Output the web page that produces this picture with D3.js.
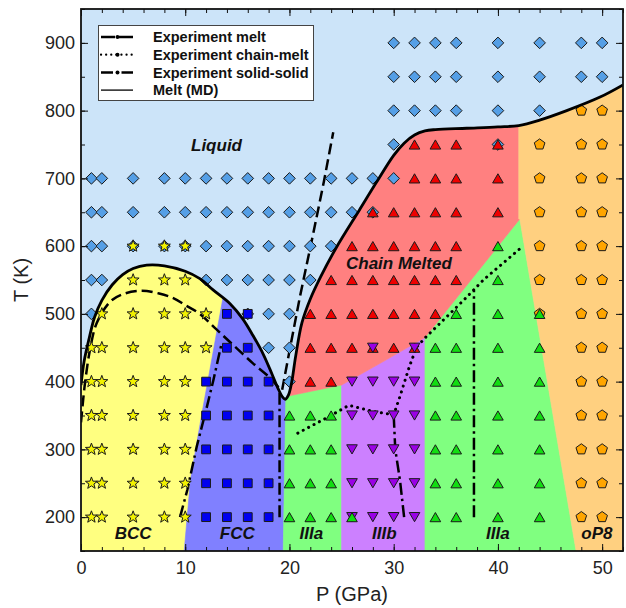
<!DOCTYPE html>
<html>
<head>
<meta charset="utf-8">
<script src="https://cdn.jsdelivr.net/npm/d3@7"></script>
<style>
body { margin: 0; background: #fff; }
text { font-family: "Liberation Sans", Arial, sans-serif; }
</style>
</head>
<body>
<script>
// ---- simulation points: [T, [P values]] ----
var liquidRows = [
    [900, [30, 32, 34, 36, 40, 44, 48, 50]],
    [850, [30, 32, 34, 36, 40, 44, 48, 50]],
    [800, [30, 32, 34, 36, 40, 44]],
    [750, [30, 40]],
    [700, [1, 2, 5, 8, 10, 12, 14, 16, 18, 20, 22, 24, 26, 28, 30]],
    [650, [1, 2, 5, 8, 10, 12, 14, 16, 18, 20, 22, 24, 26, 28]],
    [600, [1, 2, 5, 8, 10, 12, 14, 16, 18, 20, 22, 24]],
    [550, [1, 2, 12, 14, 16, 18, 20, 22]],
    [500, [1, 16, 18, 20]],
    [450, [18, 20]],
    [400, [20]]
];
var bccRows = [
    [600, [5, 8, 10]],
    [550, [5, 8, 10]],
    [500, [2, 5, 8, 10, 12]],
    [450, [1, 2, 5, 8, 10, 12]],
    [400, [1, 2, 5, 8, 10]],
    [350, [1, 2, 5, 8, 10]],
    [300, [1, 2, 5, 8, 10]],
    [250, [1, 2, 5, 8, 10]],
    [200, [1, 2, 5, 8, 10]]
];
var fccRows = [
    [500, [14, 16]],
    [450, [14, 16]],
    [400, [12, 14, 16, 18]],
    [350, [12, 14, 16, 18]],
    [300, [12, 14, 16, 18]],
    [250, [12, 14, 16, 18]],
    [200, [12, 14, 16, 18]]
];
var op8Rows = [
    [800, [48, 50]],
    [750, [44, 48, 50]],
    [700, [44, 48, 50]],
    [650, [44, 48, 50]],
    [600, [44, 48, 50]],
    [550, [44, 48, 50]],
    [500, [44, 48, 50]],
    [450, [48, 50]],
    [400, [48, 50]],
    [350, [48, 50]],
    [300, [48, 50]],
    [250, [48, 50]],
    [200, [48, 50]]
];
var chainRows = [
    [750, [32, 34, 36, 40]],
    [700, [32, 34, 36, 40]],
    [650, [28, 30, 32, 34, 36, 40]],
    [600, [26, 28, 30, 32, 34, 36]],
    [550, [24, 26, 28, 30, 32, 34, 36]],
    [500, [22, 24, 26, 28, 30, 32, 34]],
    [450, [22, 24, 26, 28, 30, 32]],
    [400, [22, 24]]
];
var iiibRows = [
    [450, [28, 32]],
    [400, [26, 28, 30, 32]],
    [350, [26, 28, 30, 32]],
    [300, [26, 28, 30, 32]],
    [250, [26, 28, 30, 32]],
    [200, [26, 28, 30, 32]]
];
var iiiaRows = [
    [600, [40]],
    [550, [40]],
    [500, [36, 40, 44]],
    [450, [34, 36, 40, 44]],
    [400, [34, 36, 40, 44]],
    [350, [20, 22, 24, 34, 36, 40, 44]],
    [300, [20, 22, 24, 34, 36, 40, 44]],
    [250, [20, 22, 24, 34, 36, 40, 44]],
    [200, [20, 22, 24, 26, 34, 36, 40, 44]]
];

// ---- curves: [P, T] ----
var meltMD = [[0, 395], [0.3, 430], [0.8, 465], [1.3, 495], [2, 520], [3, 543], [4, 558], [5, 567],
    [6.3, 572], [8, 571], [10, 563], [11.4, 552], [12.7, 535], [14.3, 515], [15.5, 493], [16.5, 468],
    [17.5, 440], [18.3, 412], [18.9, 390], [19.35, 377], [19.6, 374], [19.9, 380], [20.2, 398],
    [20.6, 438], [21.2, 487], [22, 522], [23, 555], [24.5, 598], [26.7, 653], [28.3, 693], [30, 734],
    [31, 752], [32, 764], [33, 770], [34, 772], [37, 774], [40, 776], [42, 778], [44, 786],
    [46.6, 800], [49.8, 820], [52, 838]];
var meltExpLow = [[0, 340], [0.4, 400], [0.9, 450], [1.5, 486], [2.8, 518], [4, 529], [5.8, 534],
    [7.5, 530], [8.9, 523], [10, 513], [11.4, 500], [13, 477], [14.6, 454], [16.5, 427], [18.1, 406],
    [19.2, 387]];
var meltExpHigh = [[19.3, 388], [20, 445], [21, 525], [22.3, 620], [23.3, 695], [24.2, 768]];
var chainMeltExp = [[20.8, 324], [23.5, 346], [25.7, 365], [28, 356], [30, 351], [30.6, 378],
    [31.5, 422], [32.2, 451], [33.1, 466], [35.1, 496], [36.7, 520], [38.6, 550], [42.1, 596]];
var solidBccFcc = [[9.5, 200], [10.2, 240], [11.1, 304], [12, 358], [12.7, 402], [13.5, 457]];
var solidFccIIIa = [[19.05, 200], [19.05, 386]];
var solidIIIaIIIb = [[31, 200], [30.6, 255], [30.15, 300], [30, 351]];
var solidIIIaHigh = [[37.7, 200], [37.7, 535]];

// ---- phase areas (clipped by the area under the melt curve) ----
var bccArea = [[0, 150], [9.9, 150], [10.5, 255], [11.6, 353], [13.6, 522], [13.6, 950], [0, 950]];
var fccArea = [[9.9, 150], [19.4, 150], [19.65, 376], [19.65, 950], [13.6, 950], [13.6, 522],
    [11.6, 353], [10.5, 255]];
var iiiaLowArea = [[19.4, 150], [25, 150], [25, 395], [19.65, 378], [19.65, 376]];
var iiibArea = [[25, 150], [33, 150], [33, 465], [28.7, 427], [25, 395]];
var iiiaHighArea = [[33, 150], [47.5, 150], [42.1, 640], [33, 465]];
var chainArea = [[19.65, 378], [25, 395], [28.7, 427], [33, 465], [42.1, 640], [42, 640],
    [42, 950], [19.65, 950]];
var op8Area = [[47.5, 150], [52, 150], [52, 950], [42, 950], [42, 640], [42.1, 640]];

var phaseLabels = [["Liquid", 13.0, 750], ["Chain Melted", 30.5, 575], ["BCC", 5, 177],
    ["FCC", 15, 177], ["IIIa", 22.1, 177], ["IIIb", 29.1, 177], ["IIIa", 40, 177], ["oP8", 49.5, 177]];
var legendNames = ["Experiment melt", "Experiment chain-melt", "Experiment solid-solid", "Melt (MD)"];
var xMajor = [0, 10, 20, 30, 40, 50];
var yMajor = [200, 300, 400, 500, 600, 700, 800, 900];

var width = 626;
var height = 608;
var pLeft = 81, pRight = 623, pTop = 9, pBottom = 551;

var svg = d3.select("body")
    .append("svg")
    .attr("width", width)
    .attr("height", height);

var x = d3.scaleLinear().domain([0, 52]).range([pLeft, pRight]);
var y = d3.scaleLinear().domain([150, 950]).range([pBottom, pTop]);

var defs = svg.append("defs");
defs.append("clipPath").attr("id", "plot")
    .append("rect")
    .attr("x", pLeft).attr("y", pTop)
    .attr("width", pRight - pLeft).attr("height", pBottom - pTop);

var curveLine = d3.line()
    .x(function(d) { return x(d[0]); })
    .y(function(d) { return y(d[1]); })
    .curve(d3.curveCatmullRom);
var straight = d3.line()
    .x(function(d) { return x(d[0]); })
    .y(function(d) { return y(d[1]); });
var underMelt = d3.area()
    .x(function(d) { return x(d[0]); })
    .y0(y(150))
    .y1(function(d) { return y(d[1]); })
    .curve(d3.curveCatmullRom);

defs.append("clipPath").attr("id", "solid")
    .append("path")
    .attr("d", underMelt(meltMD));

var plot = svg.append("g").attr("clip-path", "url(#plot)");

// liquid background
plot.append("rect")
    .attr("x", pLeft).attr("y", pTop)
    .attr("width", pRight - pLeft).attr("height", pBottom - pTop)
    .style("fill", "#cce4f9");

var phases = plot.append("g").attr("clip-path", "url(#solid)");
var areas = [
    [bccArea, "#ffff80"], [fccArea, "#8080ff"], [iiiaLowArea, "#80ff80"], [iiibArea, "#cc80ff"],
    [iiiaHighArea, "#80ff80"], [chainArea, "#ff8080"], [op8Area, "#ffd080"]
];
phases.selectAll("path")
    .data(areas)
    .enter()
    .append("path")
    .attr("d", function(d) { return straight(d[0]) + "Z"; })
    .style("fill", function(d) { return d[1]; })
    .style("stroke", function(d) { return d[1]; })
    .style("stroke-width", 0.6);

// marker shapes
function diamond(s) { return "M0," + (-s) + "L" + s + ",0L0," + s + "L" + (-s) + ",0Z"; }
function square(s) { return "M" + (-s) + "," + (-s) + "H" + s + "V" + s + "H" + (-s) + "Z"; }
function triUp(w, h) { return "M0," + (-h) + "L" + w + "," + h + "L" + (-w) + "," + h + "Z"; }
function triDown(w, h) { return "M0," + h + "L" + w + "," + (-h) + "L" + (-w) + "," + (-h) + "Z"; }
function polyStar(n, R, r) {
    var pts = [];
    for (var i = 0; i < 2 * n; i++) {
        var a = -Math.PI / 2 + i * Math.PI / n;
        var rr = (i % 2 === 0) ? R : r;
        pts.push([rr * Math.cos(a), rr * Math.sin(a)]);
    }
    return "M" + pts.map(function(p) { return p[0].toFixed(2) + "," + p[1].toFixed(2); }).join("L") + "Z";
}
function polygon(n, R) {
    var pts = [];
    for (var i = 0; i < n; i++) {
        var a = -Math.PI / 2 + i * 2 * Math.PI / n;
        pts.push([R * Math.cos(a), R * Math.sin(a)]);
    }
    return "M" + pts.map(function(p) { return p[0].toFixed(2) + "," + p[1].toFixed(2); }).join("L") + "Z";
}

function flatten(rows) {
    var out = [];
    rows.forEach(function(r) {
        r[1].forEach(function(p) { out.push([p, r[0]]); });
    });
    return out;
}

// lines
var lines = plot.append("g").style("fill", "none").style("stroke", "#000");
lines.append("path").attr("d", curveLine(meltExpLow))
    .style("stroke-width", 2.5).style("stroke-dasharray", "11,5");
lines.append("path").attr("d", straight(meltExpHigh))
    .style("stroke-width", 2.5).style("stroke-dasharray", "11,5");
[solidBccFcc, solidFccIIIa, solidIIIaIIIb, solidIIIaHigh].forEach(function(seg) {
    lines.append("path").attr("d", straight(seg))
        .style("stroke-width", 2.5).style("stroke-dasharray", "12,4,2.5,4");
});
lines.append("path").attr("d", straight(chainMeltExp))
    .style("stroke-width", 3).style("stroke-linecap", "round").style("stroke-dasharray", "0.1,6");

var series = [
    [liquidRows, diamond(5.8), "#559fe6"],
    [bccRows, polyStar(5, 6.3, 2.6), "#f2f200"],
    [fccRows, square(4.4), "#0000f0"],
    [op8Rows, polygon(5, 5.6), "#ffa500"],
    [chainRows, triUp(5.3, 4.6), "#ee0000"],
    [iiibRows, triDown(5.3, 4.6), "#9a00e6"],
    [iiiaRows, triUp(5.3, 4.6), "#11dd11"]
];
series.forEach(function(s) {
    plot.append("g").selectAll("path")
        .data(flatten(s[0]))
        .enter()
        .append("path")
        .attr("transform", function(d) { return "translate(" + x(d[0]) + "," + y(d[1]) + ")"; })
        .attr("d", s[1])
        .style("fill", s[2])
        .style("stroke", "#1a1a1a")
        .style("stroke-width", 1);
});

plot.append("path").attr("d", curveLine(meltMD))
    .style("fill", "none").style("stroke", "#000").style("stroke-width", 2.8);

// phase names
svg.selectAll("text.phase")
    .data(phaseLabels)
    .enter()
    .append("text")
    .attr("class", "phase")
    .attr("x", function(d) { return x(d[1]); })
    .attr("y", function(d) { return y(d[2]); })
    .attr("dy", "0.36em")
    .attr("text-anchor", "middle")
    .style("font-size", "17px")
    .style("font-weight", "bold")
    .style("font-style", "italic")
    .style("fill", "#111")
    .text(function(d) { return d[0]; });

// legend
var leg = svg.append("g");
leg.append("rect")
    .attr("x", 98.5).attr("y", 25.5).attr("width", 215).attr("height", 75)
    .style("fill", "#fff").style("stroke", "#444").style("stroke-width", 1);
var dashes = ["14,4", "0.1,5", "12,3,2.5,3", null];
legendNames.forEach(function(name, i) {
    var ly = 37 + i * 17.7;
    var ln = leg.append("line")
        .attr("x1", 101).attr("x2", 133).attr("y1", ly).attr("y2", ly)
        .style("stroke", "#000")
        .style("stroke-width", i === 3 ? 1.3 : (i === 1 ? 2.2 : 2.5));
    if (dashes[i]) ln.style("stroke-dasharray", dashes[i]);
    if (i === 1) ln.style("stroke-linecap", "round");
    if (i < 3) {
        leg.append("circle").attr("cx", 117.5).attr("cy", ly).attr("r", 2).style("fill", "#000");
    }
    leg.append("text")
        .attr("x", 153).attr("y", ly).attr("dy", "0.36em")
        .style("font-size", "14.5px").style("font-weight", "bold").style("fill", "#111")
        .text(name);
});

// axes, ticks pointing inwards
function styleAxis(g) {
    g.select(".domain").remove();
    g.selectAll("line").style("stroke", "#111").style("stroke-width", 1);
    g.selectAll("text").style("font-size", "18px").style("fill", "#222")
        .style("font-family", "'Liberation Sans', Arial, sans-serif");
}
var xMinor = d3.range(0, 53, 2);
var yMinor = d3.range(150, 951, 50);

svg.append("g").attr("transform", "translate(0," + pBottom + ")")
    .call(d3.axisBottom(x).tickValues(xMinor).tickSize(-4).tickFormat("")).call(styleAxis);
svg.append("g").attr("transform", "translate(0," + pBottom + ")")
    .call(d3.axisBottom(x).tickValues(xMajor).tickSize(-7).tickPadding(10).tickFormat(d3.format("d")))
    .call(styleAxis);
svg.append("g").attr("transform", "translate(0," + pTop + ")")
    .call(d3.axisTop(x).tickValues(xMinor).tickSize(-4).tickFormat("")).call(styleAxis);
svg.append("g").attr("transform", "translate(0," + pTop + ")")
    .call(d3.axisTop(x).tickValues(xMajor).tickSize(-7).tickFormat("")).call(styleAxis);
svg.append("g").attr("transform", "translate(" + pLeft + ",0)")
    .call(d3.axisLeft(y).tickValues(yMinor).tickSize(-4).tickFormat("")).call(styleAxis);
svg.append("g").attr("transform", "translate(" + pLeft + ",0)")
    .call(d3.axisLeft(y).tickValues(yMajor).tickSize(-7).tickPadding(6).tickFormat(d3.format("d")))
    .call(styleAxis);
svg.append("g").attr("transform", "translate(" + pRight + ",0)")
    .call(d3.axisRight(y).tickValues(yMinor).tickSize(-4).tickFormat("")).call(styleAxis);
svg.append("g").attr("transform", "translate(" + pRight + ",0)")
    .call(d3.axisRight(y).tickValues(yMajor).tickSize(-7).tickFormat("")).call(styleAxis);

svg.append("rect")
    .attr("x", pLeft).attr("y", pTop)
    .attr("width", pRight - pLeft).attr("height", pBottom - pTop)
    .style("fill", "none").style("stroke", "#111").style("stroke-width", 1.8);

svg.append("text")
    .attr("x", (pLeft + pRight) / 2).attr("y", 601)
    .attr("text-anchor", "middle")
    .style("font-size", "20px").style("fill", "#222")
    .text("P (GPa)");
svg.append("text")
    .attr("transform", "translate(28," + ((pTop + pBottom) / 2) + ") rotate(-90)")
    .attr("text-anchor", "middle")
    .style("font-size", "20px").style("fill", "#222")
    .text("T (K)");
</script>
</body>
</html>
